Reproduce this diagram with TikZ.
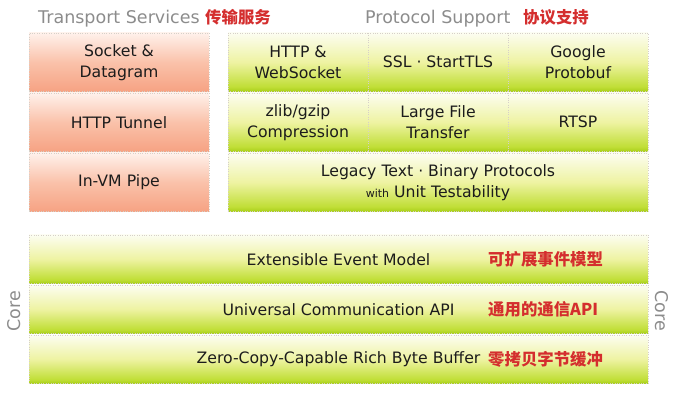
\documentclass[tikz,border=0pt]{standalone}
\usepackage{fontspec}
\setmainfont{DejaVu Sans}
\newfontfamily\cjk{Noto Sans CJK SC}
\usetikzlibrary{calc}

\definecolor{cnred}{HTML}{D42E2E}
\definecolor{titlegray}{HTML}{8C8C8C}
\definecolor{boxtext}{HTML}{1C1C1C}
\definecolor{edgegray}{HTML}{D6D0C8}
\definecolor{salmonB}{HTML}{F6A283}
\definecolor{salmonM}{HTML}{FAC2AA}
\definecolor{salmonT}{HTML}{FFF1EB}
\definecolor{greenB}{HTML}{A8D01A}
\definecolor{greenL}{HTML}{C0DE36}
\definecolor{greenM}{HTML}{EEF3A2}
\definecolor{greenT}{HTML}{FCFDF1}

\pgfdeclareverticalshading{salmonfill}{100bp}{color(0bp)=(salmonB); color(25bp)=(salmonB); color(50bp)=(salmonM); color(75bp)=(salmonT); color(100bp)=(salmonT)}
\pgfdeclareverticalshading{greenfill}{100bp}{color(0bp)=(greenB); color(25bp)=(greenB); color(29bp)=(greenL); color(50bp)=(greenM); color(75bp)=(greenT); color(100bp)=(greenT)}

\tikzset{
  cellbox/.style={draw=edgegray, dotted, inner sep=0pt, align=center, text=boxtext,
    font=\fontsize{15.7}{21}\selectfont},
  transbox/.style={cellbox, shading=salmonfill, minimum width=180, minimum height=58.5},
  protobox/.style={cellbox, shading=greenfill, minimum width=140, minimum height=58.5},
  widebox/.style={cellbox, shading=greenfill, minimum width=420, minimum height=58.5},
  corebox/.style={cellbox, shading=greenfill, minimum width=619, minimum height=48.5},
  titletext/.style={text=titlegray, inner sep=0pt, font=\fontsize{17.5}{20}\selectfont},
  cnlabel/.style={text=cnred, inner sep=0pt, font=\cjk\bfseries\fontsize{16.4}{20}\selectfont}
}

\begin{document}
\begin{tikzpicture}[x=1pt, y=-1pt]
  \useasboundingbox (0,0) rectangle (696,406);

  % titles
  \node[titletext, anchor=base west] (tsTitle) at (38,24) {Transport Services};
  \node[cnlabel, anchor=base west] (tsCn) at (205,24) {传输服务};
  \node[titletext, anchor=base west] (psTitle) at (365,24) {Protocol Support};
  \node[cnlabel, anchor=base west] (psCn) at (523,24) {协议支持};

  % transport services
  \node[transbox] (sock) at (119,62.25) {Socket \&\\Datagram};
  \node[transbox] (tunnel) at (119,122.25) {HTTP Tunnel};
  \node[transbox] (pipe) at (119,182.25) {In-VM Pipe};

  % protocol support
  \node[protobox] (http) at (298,62.25) {HTTP \&\\WebSocket};
  \node[protobox] (ssl) at (438,62.25) {SSL · StartTLS};
  \node[protobox] (proto) at (578,62.25) {Google\\Protobuf};
  \node[protobox] (zlib) at (298,122.25) {zlib/gzip\\Compression};
  \node[protobox] (large) at (438,122.25) {Large File\\Transfer};
  \node[protobox] (rtsp) at (578,122.25) {RTSP};
  \node[widebox] (legacy) at (438,182.25) {Legacy Text · Binary Protocols\\{\fontsize{11}{13}\selectfont with} Unit Testability};

  % core
  \node[corebox] (event) at (338.5,259.25) {Extensible Event Model};
  \node[corebox] (comm) at (338.5,309.25) {Universal Communication API};
  \node[corebox] (buffer) at (338.5,359.25) {Zero-Copy-Capable Rich Byte Buffer};
  \node[cnlabel, anchor=west] (eventCn) at (488,259.25) {可扩展事件模型};
  \node[cnlabel, anchor=west] (commCn) at (488,309.25) {通用的通信API};
  \node[cnlabel, anchor=west] (bufferCn) at (488,359.25) {零拷贝字节缓冲};

  \node[titletext, rotate=90] (coreL) at (14,311) {Core};
  \node[titletext, rotate=-90] (coreR) at (662,311) {Core};
\end{tikzpicture}
\end{document}
